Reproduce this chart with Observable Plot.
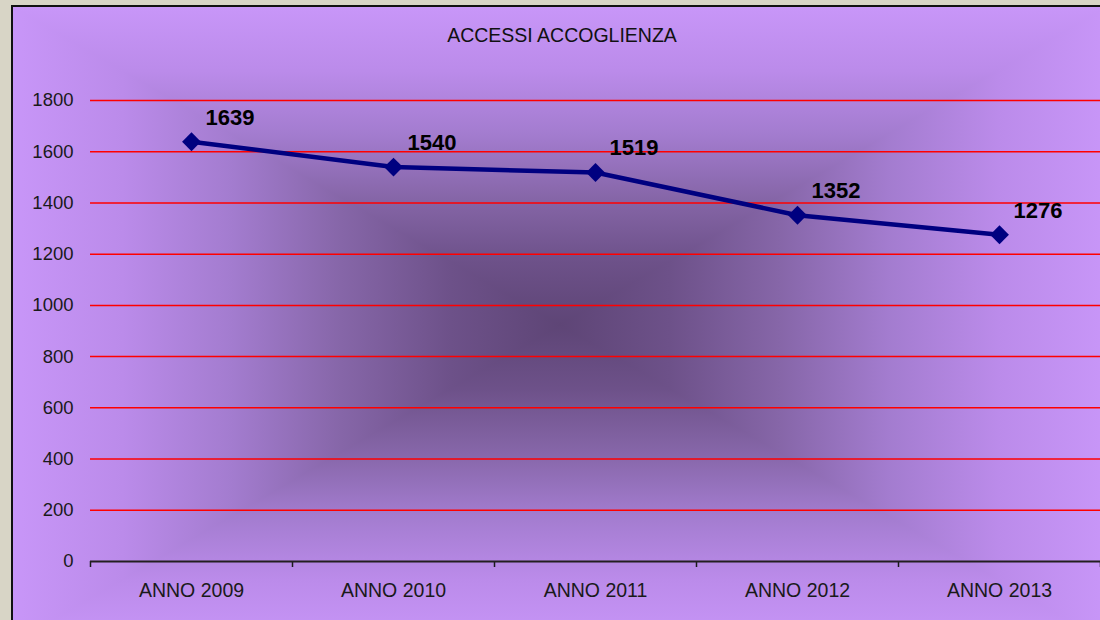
<!DOCTYPE html>
<html>
<head>
<meta charset="utf-8">
<script src="https://cdn.jsdelivr.net/npm/d3@7"></script>
<script src="https://cdn.jsdelivr.net/npm/@observablehq/plot@0.6"></script>
<style>
  html, body { margin: 0; padding: 0; }
  body { width: 1100px; height: 620px; overflow: hidden; background: #d8d5c6; position: relative; font-family: "Liberation Sans", Arial, sans-serif; }
  #frame { position: absolute; left: 11px; top: 5px; width: 1094px; height: 636px; border-left: 2px solid #111; border-top: 2px solid #111; overflow: hidden; }
  .layer { position: absolute; left: 0; top: 0; width: 100%; height: 100%; }
  #title { position: absolute; top: 26px; left: 562px; transform: translateX(-50%); font-size: 19.5px; line-height: 19.5px; color: #111; white-space: nowrap; }
  #chart { position: absolute; left: 0; top: 0; }
</style>
</head>
<body>
<div id="frame">
  <div class="layer" id="gh"></div>
  <div class="layer" id="gt"></div>
  <div class="layer" id="gb"></div>
</div>
<div id="title">ACCESSI ACCOGLIENZA</div>
<div id="chart"></div>
<script>
// ---- data ----
const years = [2009, 2010, 2011, 2012, 2013];
const accessi = [1639, 1540, 1519, 1352, 1276];
const yTicks = [0, 200, 400, 600, 800, 1000, 1200, 1400, 1600, 1800];
const gridValues = [200, 400, 600, 800, 1000, 1200, 1400, 1600, 1800];
const categoryEdges = [2008.5, 2009.5, 2010.5, 2011.5, 2012.5, 2013.5];
const labelPrefix = "ANNO ";

const rows = years.map((y, i) => ({year: y, value: accessi[i]}));

// ---- background: rectangular "from centre" gradient ----
const stops = [["#c896f8", 0], ["#bb8bea", 0.2], ["#a37ccf", 0.4], ["#8666a8", 0.6], ["#6d5189", 0.8], ["#5e4576", 1]];
const half = stops.map(([c, t]) => `${c} ${(t * 50).toFixed(1)}%`);
const mirror = stops.slice().reverse().map(([c, t]) => `${c} ${(100 - t * 50).toFixed(1)}%`);
const full = half.concat(mirror).join(", ");
document.getElementById("gh").style.background = `linear-gradient(to right, ${full})`;
const gt = document.getElementById("gt");
gt.style.background = `linear-gradient(to bottom, ${full})`;
gt.style.clipPath = "polygon(0 0, 100% 0, 50% 50%)";
const gb = document.getElementById("gb");
gb.style.background = `linear-gradient(to bottom, ${full})`;
gb.style.clipPath = "polygon(0 100%, 100% 100%, 50% 50%)";

// ---- chart ----
const chart = Plot.plot({
  width: 1100,
  height: 620,
  marginTop: 100,
  marginBottom: 59,
  marginLeft: 90,
  marginRight: 0,
  style: {background: "transparent", fontFamily: "'Liberation Sans', Arial, sans-serif", color: "#1a1a1a", overflow: "visible"},
  x: {type: "linear", domain: [2008.5, 2013.5]},
  y: {domain: [0, 1800]},
  marks: [
    Plot.ruleY(gridValues, {stroke: "#ff0000", strokeWidth: 1.5}),
    Plot.axisY({ticks: yTicks, tickSize: 0, tickPadding: 17, fontSize: 18.5, label: null, tickFormat: d => String(d)}),
    Plot.axisX({ticks: categoryEdges, tickSize: 6, tickFormat: () => "", label: null, strokeWidth: 1.5}),
    Plot.axisX({ticks: years, tickSize: 0, tickPadding: 22, fontSize: 19.5, label: null, tickFormat: d => labelPrefix + d}),
    Plot.ruleY([0], {stroke: "#231f20", strokeWidth: 2}),
    Plot.line(rows, {x: "year", y: "value", stroke: "#000080", strokeWidth: 4.5}),
    Plot.dot(rows, {x: "year", y: "value", symbol: "diamond2", r: 8.5, fill: "#000080", stroke: "none"}),
    Plot.text(rows, {x: "year", y: "value", text: d => String(d.value), textAnchor: "start", lineAnchor: "bottom", dx: 14, dy: -17, fontSize: 22, fontWeight: "bold", fill: "#000"})
  ]
});
document.getElementById("chart").appendChild(chart);
</script>
</body>
</html>
